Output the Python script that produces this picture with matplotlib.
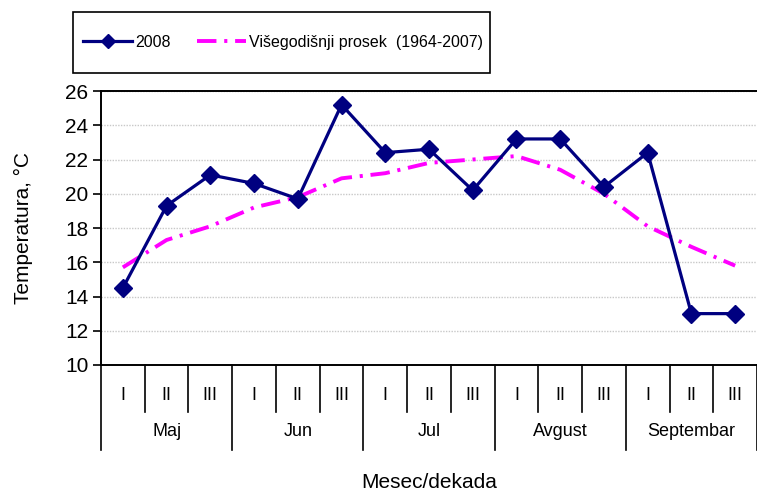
import matplotlib
matplotlib.use("Agg")
import numpy as np
import matplotlib.pyplot as plt
import matplotlib.transforms as mtransforms

plt.rcParams['font.family'] = ['Liberation Sans', 'DejaVu Sans']

# Data
months = ["Maj", "Jun", "Jul", "Avgust", "Septembar"]
dekade = ["I", "II", "III"]
temp_2008 = [14.5, 19.3, 21.1, 20.6, 19.7, 25.2, 22.4, 22.6, 20.2,
             23.2, 23.2, 20.4, 22.4, 13.0, 13.0]
temp_avg = [15.7, 17.3, 18.1, 19.2, 19.8, 20.9, 21.2, 21.8, 22.0,
            22.2, 21.4, 20.0, 18.1, 16.9, 15.8]

W, H = 757, 496
fig = plt.figure(figsize=(W / 100, H / 100), dpi=100)
ax = fig.add_axes([101 / W, (H - 365) / H, (W - 101) / W, (365 - 91) / H])

x = np.arange(len(temp_2008))
ax.plot(x, temp_2008, color="#000080", lw=2.3, marker="D", markersize=9,
        label="2008", zorder=3)
ax.plot(x, temp_avg, color="#FF00FF", lw=2.8, linestyle=(0, (5, 2, 0.8, 2)),
        label="Višegodišnji prosek  (1964-2007)", zorder=2)

ax.set_xlim(-0.5, len(x) - 0.5)
ax.set_ylim(10, 26)
ax.set_yticks(np.arange(10, 27, 2))
ax.tick_params(axis="y", labelsize=15, length=6, width=1.2, pad=3,
               direction="out")
ax.yaxis.grid(True, color="#c8c8c8", linestyle=(0, (1, 1)), lw=1)
ax.set_axisbelow(True)
ax.spines["right"].set_visible(False)
for s in ["left", "top", "bottom"]:
    ax.spines[s].set_linewidth(1.4)
ax.set_ylabel("Temperatura, °C", fontsize=15, labelpad=23)

# category axis: dekade and months below the plot
ax.set_xticks([])
ax_h = 365 - 91
trans = mtransforms.blended_transform_factory(ax.transData, ax.transAxes)
for k in range(len(x) + 1):
    ybot = -85 / ax_h if k % 3 == 0 else -47 / ax_h
    ax.plot([k - 0.5, k - 0.5], [0, ybot], transform=trans, color="black",
            lw=1.2, clip_on=False)
for i in x:
    ax.text(i, -30 / ax_h, dekade[i % 3], transform=trans, ha="center",
            va="center", fontsize=13)
for m, name in enumerate(months):
    ax.text(3 * m + 1, -67 / ax_h, name, transform=trans, ha="center",
            va="center", fontsize=13)
ax.text(0.5, -118 / ax_h, "Mesec/dekada", transform=ax.transAxes, ha="center",
        va="center", fontsize=15)

leg = fig.legend(loc="center", bbox_to_anchor=(283 / W, 1 - 42.5 / H),
                 ncol=2, fontsize=11.5, frameon=False, borderpad=0,
                 handlelength=3.1, handletextpad=0.2, columnspacing=1.6,
                 markerscale=0.75)
fig.patches.append(plt.Rectangle((73 / W, 1 - 73 / H), 417 / W, 61 / H,
                                 transform=fig.transFigure, fill=False,
                                 edgecolor="black", lw=1.2))

fig.savefig("out.png", dpi=100)
